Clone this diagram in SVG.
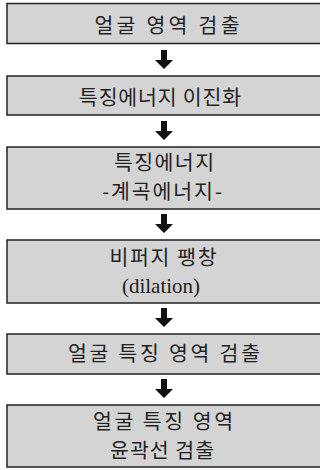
<svg xmlns="http://www.w3.org/2000/svg" width="320" height="470" viewBox="0 0 320 470">
<style>
.box{fill:#d4d4d4;stroke:#222;stroke-width:1.5}
.t{font-family:"Noto Sans CJK KR","Noto Sans",sans-serif;font-size:20.5px;fill:#222;text-anchor:middle}
.s{font-family:"Liberation Serif",serif;font-size:21px;fill:#222;text-anchor:middle}
.arr{fill:#111}
</style>
<defs>
<path id="a" d="M-3,0 H3 V10 H9 L0,19 L-9,10 H-3 Z"/>
</defs>
<g id="connectors">
<use href="#a" class="arr" x="164" y="50"/>
<use href="#a" class="arr" x="164" y="121"/>
<use href="#a" class="arr" x="164" y="214"/>
<use href="#a" class="arr" x="164" y="308"/>
<use href="#a" class="arr" x="164" y="379"/>
</g>
<g id="n1">
<rect class="box" x="7" y="3.5" width="320" height="40"/>
<text class="t" x="167" y="33" textLength="145">얼굴 영역 검출</text>
</g>
<g id="n2">
<rect class="box" x="7" y="76" width="320" height="39"/>
<text class="t" x="160" y="105" textLength="162">특징에너지 이진화</text>
</g>
<g id="n3">
<rect class="box" x="7" y="147" width="320" height="62"/>
<text class="t" x="164" y="170" textLength="100">특징에너지</text>
<text class="t" x="162" y="199" textLength="120">-계곡에너지-</text>
</g>
<g id="n4">
<rect class="box" x="7" y="240" width="320" height="63"/>
<text class="t" x="163" y="265" textLength="107">비퍼지 팽창</text>
<text class="s" x="161" y="293">(dilation)</text>
</g>
<g id="n5">
<rect class="box" x="7" y="334" width="320" height="40"/>
<text class="t" x="164" y="361" textLength="192">얼굴 특징 영역 검출</text>
</g>
<g id="n6">
<rect class="box" x="7" y="405" width="320" height="62"/>
<text class="t" x="163" y="429" textLength="140">얼굴 특징 영역</text>
<text class="t" x="162" y="458" textLength="104">윤곽선 검출</text>
</g>
</svg>
